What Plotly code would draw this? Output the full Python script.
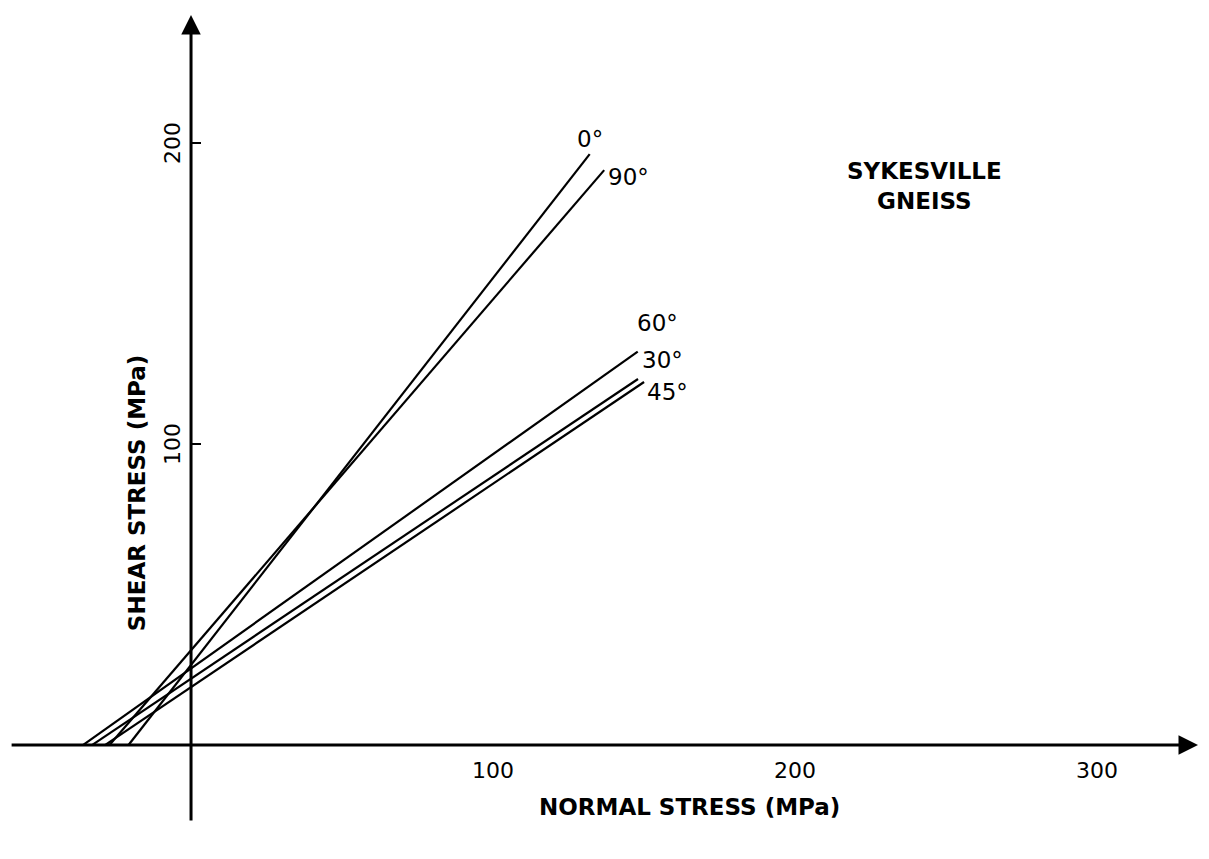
import plotly.graph_objects as go

# Failure envelopes (shear vs normal stress), one per foliation orientation
orientations = ["0°", "90°", "60°", "30°", "45°"]
normal_start = [-20.7, -27.0, -35.8, -32.8, -28.5]   # MPa, where envelope meets normal-stress axis
shear_start = [0, 0, 0, 0, 0]
normal_end = [132.0, 136.8, 147.9, 148.0, 150.0]     # MPa
shear_end = [196.3, 191.0, 130.7, 121.6, 120.6]      # MPa

x_ticks = [100, 200, 300]
y_ticks = [100, 200]

FONT = "DejaVu Sans"

fig = go.Figure()

for i, name in enumerate(orientations):
    fig.add_trace(go.Scatter(
        x=[normal_start[i], normal_end[i]],
        y=[shear_start[i], shear_end[i]],
        mode="lines",
        line=dict(color="black", width=2.2),
        name=name,
        showlegend=False,
        hoverinfo="skip",
    ))

# Axes as arrows through the origin
fig.add_annotation(x=333.4, y=0, ax=-59.9, ay=0, xref="x", yref="y", axref="x", ayref="y",
                   showarrow=True, arrowhead=2, arrowsize=1.3, arrowwidth=3, arrowcolor="black", text="")
fig.add_annotation(x=0, y=242.5, ax=0, ay=-25.6, xref="x", yref="y", axref="x", ayref="y",
                   showarrow=True, arrowhead=2, arrowsize=1.3, arrowwidth=3, arrowcolor="black", text="")

# y ticks (to the right of the axis)
for v in y_ticks:
    fig.add_shape(type="line", xref="x", yref="y", x0=0, x1=3.3, y0=v, y1=v,
                  line=dict(color="black", width=2))
    fig.add_annotation(x=0, y=v, xref="x", yref="y", text=str(v), showarrow=False,
                       textangle=-90, xshift=-19, font=dict(family=FONT, size=22, color="black"))

for v in x_ticks:
    fig.add_annotation(x=v, y=0, xref="x", yref="y", text=str(v), showarrow=False,
                       yshift=-25, font=dict(family=FONT, size=22, color="black"))

# Orientation labels
label_pos = {"0°": (132.1, 201.3), "90°": (144.7, 188.7), "60°": (154.3, 140.2),
             "30°": (156.0, 127.9), "45°": (157.9, 117.3)}
for name in orientations:
    lx, ly = label_pos[name]
    fig.add_annotation(x=lx, y=ly, xref="x", yref="y", text=name, showarrow=False,
                       font=dict(family=FONT, size=23, color="black"))

fig.add_annotation(x=243.0, y=185.7, xref="x", yref="y", text="<b>SYKESVILLE<br>GNEISS</b>",
                   showarrow=False, align="center",
                   font=dict(family=FONT, size=23, color="black"))

fig.add_annotation(x=165.2, y=-20.6, xref="x", yref="y", text="<b>NORMAL STRESS (MPa)</b>",
                   showarrow=False, font=dict(family=FONT, size=23, color="black"))
fig.add_annotation(x=-17.9, y=84, xref="x", yref="y", text="<b>SHEAR STRESS (MPa)</b>",
                   showarrow=False, textangle=-90, font=dict(family=FONT, size=23, color="black"))

fig.update_xaxes(range=[-60.6, 334.4], visible=False, showgrid=False, zeroline=False)
fig.update_yaxes(range=[-35.2, 244.85], visible=False, showgrid=False, zeroline=False)
fig.update_layout(width=1193, height=843, margin=dict(l=0, r=0, t=0, b=0),
                  plot_bgcolor="white", paper_bgcolor="white", showlegend=False)

fig.write_html("out.html")
